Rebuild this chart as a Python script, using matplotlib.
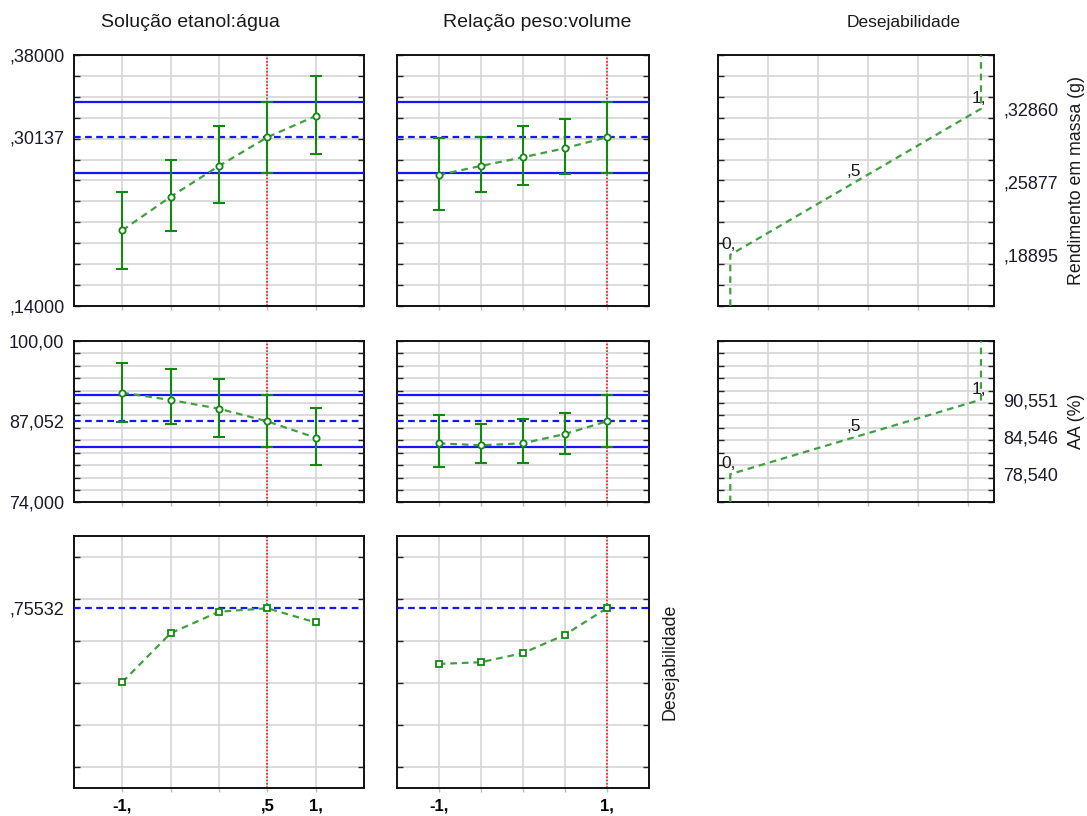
import numpy as np
import matplotlib.pyplot as plt
from matplotlib.ticker import FixedLocator, FixedFormatter

plt.rcParams['font.family'] = ['Liberation Sans', 'DejaVu Sans']
plt.rcParams['text.color'] = '#1a1a1a'

# factor levels (coded)
levels = [-1, -0.5, 0, 0.5, 1]
cur_eta = 0.5     # current setting Solução etanol:água
cur_pes = 1.0     # current setting Relação peso:volume

# Rendimento em massa (g): predicted value and confidence limits
rend_eta = [0.2124, 0.2445, 0.2739, 0.30137, 0.3217]
rend_eta_lo = [0.1757, 0.2114, 0.2388, 0.2670, 0.2851]
rend_eta_hi = [0.2490, 0.2796, 0.3121, 0.3350, 0.3602]
rend_pes = [0.2653, 0.2739, 0.2822, 0.2908, 0.30137]
rend_pes_lo = [0.2318, 0.2487, 0.2557, 0.2660, 0.2670]
rend_pes_hi = [0.3004, 0.3016, 0.3118, 0.3188, 0.3350]

# AA (%)
aa_eta = [91.67, 90.49, 89.09, 87.052, 84.41]
aa_eta_lo = [87.00, 86.62, 84.58, 82.87, 80.01]
aa_eta_hi = [96.40, 95.45, 93.82, 91.22, 89.15]
aa_pes = [83.51, 83.19, 83.51, 85.00, 87.052]
aa_pes_lo = [79.74, 80.30, 80.30, 81.73, 82.87]
aa_pes_hi = [88.00, 86.57, 87.47, 88.33, 91.22]

# Desejabilidade global
des_eta = [0.405, 0.637, 0.739, 0.75532, 0.688]
des_pes = [0.491, 0.499, 0.542, 0.629, 0.75532]
des_cur = 0.75532

# desirability functions of each response
des_levels = [0, 0.5, 1]
des_text = ['0,', ',5', '1,']
rend_des_vals = [0.18895, 0.25877, 0.32860]
aa_des_vals = [78.540, 84.546, 90.551]

rend_lim = (0.14, 0.38)
aa_lim = (74.0, 100.0)
des_lim = (-0.1, 1.1)

rend_lbl_pos = [0.14, 0.30137, 0.38]
rend_lbl = [',14000', ',30137', ',38000']
aa_lbl_pos = [74.0, 87.052, 100.0]
aa_lbl = ['74,000', '87,052', '100,00']
rend_des_lbl = [',18895', ',25877', ',32860']
aa_des_lbl = ['78,540', '84,546', '90,551']

GREEN = '#128a12'
LGREEN = '#3fa03f'
BLUE = '#1515ff'
RED = '#ff1a1a'
GRID = '#d6d6d6'

fig = plt.figure(figsize=(10.87, 8.16), dpi=100)

lefts = [0.0681, 0.365, 0.6603]
widths = [0.2668, 0.2318, 0.2537]
bottoms = [0.625, 0.3844, 0.0339]
heights = [0.3076, 0.1977, 0.3096]


def make_ax(r, c):
    ax = fig.add_axes([lefts[c], bottoms[r], widths[c], heights[r]])
    for s in ax.spines.values():
        s.set_linewidth(1.4)
        s.set_color('#111111')
    ax.yaxis.remove_overlapping_locs = False
    ax.tick_params(which='major', axis='y', direction='in', left=True, right=True,
                   length=4, width=1, color='#222222', labelleft=False)
    ax.tick_params(which='major', axis='x', direction='out', length=3, width=1,
                   color='#bbbbbb', labelbottom=False)
    ax.grid(True, which='major', color=GRID, lw=1.2, zorder=0)
    ax.set_axisbelow(True)
    return ax


def side_labels(ax, pos, txt, right=False):
    ax.yaxis.set_minor_locator(FixedLocator(pos))
    ax.yaxis.set_minor_formatter(FixedFormatter(txt))
    ax.tick_params(which='minor', axis='y', length=0, labelsize=13,
                   labelleft=not right, labelright=right, left=False, right=False,
                   pad=7, labelcolor='#1a1a2a')


def side_title(ax, x, text):
    ax.text(x, 0.5, text, transform=ax.transAxes, rotation=90,
            ha='center', va='center', fontsize=12.8)


def factor_panel(ax, m, lo, hi, cur_x, ylim, ystep, square=False):
    ax.set_xlim(-1.5, 1.5)
    ax.set_ylim(*ylim)
    ax.set_xticks(levels)
    ax.set_yticks(np.arange(ylim[0], ylim[1] + ystep / 2, ystep))
    ax.axvline(cur_x, color=RED, lw=1.2, ls=(0, (1, 1)), zorder=2)
    k = levels.index(cur_x)
    if lo is not None:
        ax.axhline(hi[k], color=BLUE, lw=1.6, zorder=3)
        ax.axhline(lo[k], color=BLUE, lw=1.6, zorder=3)
    ax.axhline(m[k], color=BLUE, lw=1.6, ls=(0, (3, 2)), zorder=3)
    ax.plot(levels, m, color=LGREEN, lw=1.6, ls=(0, (3, 2.2)), zorder=4)
    if lo is not None:
        err = [np.subtract(m, lo), np.subtract(hi, m)]
        ax.errorbar(levels, m, yerr=err, fmt='none', ecolor=GREEN, elinewidth=1.5,
                    capsize=4.5, capthick=1.5, zorder=5)
    ax.plot(levels, m, ls='none', marker='s' if square else 'o', ms=4.5,
            mfc='white', mec=GREEN, mew=1.3, zorder=6)


def desir_panel(ax, vals, ylim, ystep, lbl):
    ax.set_xlim(-0.05, 1.05)
    ax.set_ylim(*ylim)
    ax.set_xticks([0.15, 0.35, 0.55, 0.75, 0.95])
    ax.set_yticks(np.arange(ylim[0], ylim[1] + ystep / 2, ystep))
    xs = [des_levels[0]] + des_levels + [des_levels[-1]]
    ys = [ylim[0]] + vals + [ylim[1]]
    ax.plot(xs, ys, color=LGREEN, lw=1.6, ls=(0, (3, 2.2)), zorder=4)
    for d, v, t in zip(des_levels, vals, des_text):
        ax.annotate(t, (d, v), xytext=(-1.5, 2), textcoords='offset points',
                    ha='center', va='bottom', fontsize=12.5)
    side_labels(ax, vals, lbl, right=True)


# row 1: Rendimento em massa
ax1 = make_ax(0, 0)
factor_panel(ax1, rend_eta, rend_eta_lo, rend_eta_hi, cur_eta, rend_lim, 0.02)
side_labels(ax1, rend_lbl_pos, rend_lbl)
ax2 = make_ax(0, 1)
factor_panel(ax2, rend_pes, rend_pes_lo, rend_pes_hi, cur_pes, rend_lim, 0.02)
ax3 = make_ax(0, 2)
desir_panel(ax3, rend_des_vals, rend_lim, 0.02, rend_des_lbl)
side_title(ax3, 1.30, 'Rendimento em massa (g)')

# row 2: AA (%)
ax4 = make_ax(1, 0)
factor_panel(ax4, aa_eta, aa_eta_lo, aa_eta_hi, cur_eta, aa_lim, 2)
side_labels(ax4, aa_lbl_pos, aa_lbl)
ax5 = make_ax(1, 1)
factor_panel(ax5, aa_pes, aa_pes_lo, aa_pes_hi, cur_pes, aa_lim, 2)
ax6 = make_ax(1, 2)
desir_panel(ax6, aa_des_vals, aa_lim, 2, aa_des_lbl)
side_title(ax6, 1.30, 'AA (%)')

# row 3: Desejabilidade
ax7 = make_ax(2, 0)
factor_panel(ax7, des_eta, None, None, cur_eta, des_lim, 0.2, square=True)
ax7.set_yticks(np.arange(0, 1.01, 0.2))
side_labels(ax7, [des_cur], [',75532'])
ax8 = make_ax(2, 1)
factor_panel(ax8, des_pes, None, None, cur_pes, des_lim, 0.2, square=True)
ax8.set_yticks(np.arange(0, 1.01, 0.2))
side_title(ax8, 1.085, 'Desejabilidade')

for ax, lab in [(ax7, ['-1,', '', '', ',5', '1,']), (ax8, ['-1,', '', '', '', '1,'])]:
    ax.set_xticklabels(lab, fontsize=12, fontweight='bold')
    ax.tick_params(axis='x', labelbottom=True, pad=4)

fig.text(0.175, 0.972, 'Solução etanol:água', ha='center', va='center', fontsize=14)
fig.text(0.494, 0.972, 'Relação peso:volume', ha='center', va='center', fontsize=14)
fig.text(0.831, 0.972, 'Desejabilidade', ha='center', va='center', fontsize=12.5)

fig.savefig('out.png', dpi=100)
